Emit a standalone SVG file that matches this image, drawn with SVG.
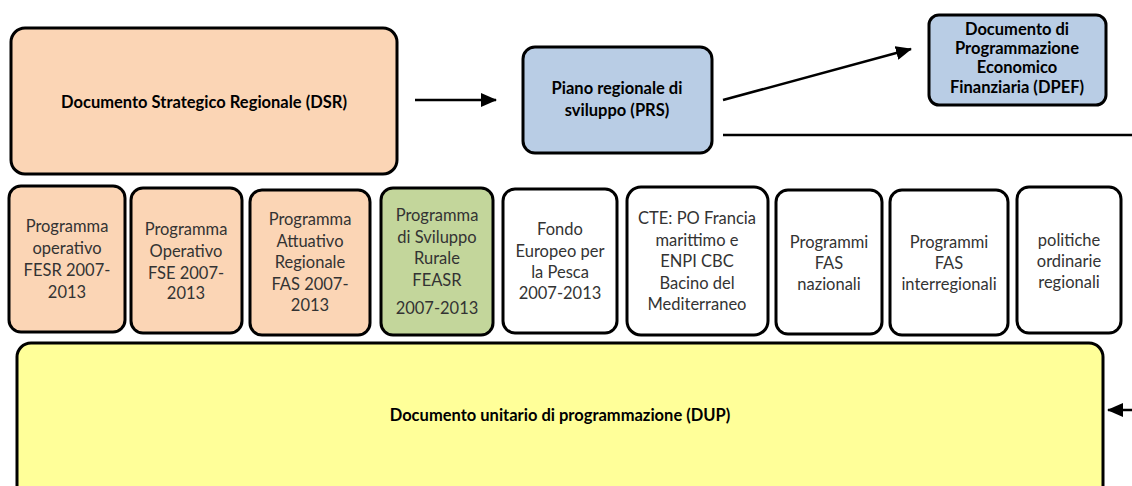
<svg xmlns="http://www.w3.org/2000/svg" width="1132" height="486" viewBox="0 0 1132 486">
<defs>
<marker id="ah" markerWidth="16" markerHeight="14" refX="15" refY="7" orient="auto" markerUnits="userSpaceOnUse" viewBox="0 0 16 14">
<path d="M0,0 L16,7 L0,14 z" fill="#000"/>
</marker>
<style>
.box{stroke:#000;stroke-width:3}
.or{fill:#FBD5B5}.bl{fill:#B9CDE5}.gr{fill:#C3D69B}.wh{fill:#fff}.ye{fill:#FFFF99}
.b{font-family:Lato,"Liberation Sans",sans-serif;font-weight:bold;font-size:16.5px;fill:#000;text-anchor:middle}
.t{font-family:Lato,"Liberation Sans",sans-serif;font-size:16.5px;fill:#333;text-anchor:middle}
.c{stroke:#000;stroke-width:2.5;fill:none}
</style>
</defs>
<g id="dsr"><rect class="box or" x="11" y="28" width="386" height="146" rx="14"/>
<text class="b" x="204" y="108">Documento Strategico Regionale (DSR)</text></g>
<g id="prs"><rect class="box bl" x="523" y="47" width="189" height="106" rx="12"/>
<text class="b" x="617" y="94">Piano regionale di</text><text class="b" x="617" y="116">sviluppo (PRS)</text></g>
<g id="dpef"><rect class="box bl" x="929" y="15" width="177" height="90" rx="10"/>
<text class="b" x="1017" y="35" font-size="15.5">Documento di</text>
<text class="b" x="1017" y="54" font-size="15.5">Programmazione</text>
<text class="b" x="1017" y="73" font-size="15.5">Economico</text>
<text class="b" x="1017" y="93" font-size="15.5">Finanziaria (DPEF)</text></g>
<g id="fesr"><rect class="box or" x="9" y="186" width="116" height="146" rx="12"/>
<text class="t" x="67" y="232">Programma</text><text class="t" x="67" y="254">operativo</text><text class="t" x="67" y="276">FESR 2007-</text><text class="t" x="67" y="298">2013</text></g>
<g id="fse"><rect class="box or" x="131" y="188" width="111" height="145" rx="12"/>
<text class="t" x="186" y="235">Programma</text><text class="t" x="186" y="257">Operativo</text><text class="t" x="186" y="279">FSE 2007-</text><text class="t" x="186" y="299">2013</text></g>
<g id="fas"><rect class="box or" x="250" y="190" width="120" height="145" rx="12"/>
<text class="t" x="310" y="225">Programma</text><text class="t" x="310" y="247">Attuativo</text><text class="t" x="310" y="268">Regionale</text><text class="t" x="310" y="290">FAS 2007-</text><text class="t" x="310" y="311">2013</text></g>
<g id="feasr"><rect class="box gr" x="381" y="188" width="112" height="147" rx="12"/>
<text class="t" x="437" y="221">Programma</text><text class="t" x="437" y="243">di Sviluppo</text><text class="t" x="437" y="264">Rurale</text><text class="t" x="437" y="286">FEASR</text><text class="t" x="437" y="314">2007-2013</text></g>
<g id="pesca"><rect class="box wh" x="503" y="189" width="114" height="144" rx="12"/>
<text class="t" x="560" y="235">Fondo</text><text class="t" x="560" y="257">Europeo per</text><text class="t" x="560" y="278">la Pesca</text><text class="t" x="560" y="299">2007-2013</text></g>
<g id="cte"><rect class="box wh" x="627" y="187" width="141" height="148" rx="14"/>
<text class="t" x="697" y="224">CTE: PO Francia</text><text class="t" x="697" y="246">marittimo e</text><text class="t" x="697" y="267">ENPI CBC</text><text class="t" x="697" y="289">Bacino del</text><text class="t" x="697" y="310">Mediterraneo</text></g>
<g id="fasnaz"><rect class="box wh" x="776" y="190" width="106" height="144" rx="12"/>
<text class="t" x="829" y="248">Programmi</text><text class="t" x="829" y="269">FAS</text><text class="t" x="829" y="290">nazionali</text></g>
<g id="fasint"><rect class="box wh" x="890" y="190" width="118" height="145" rx="12"/>
<text class="t" x="949" y="248">Programmi</text><text class="t" x="949" y="269">FAS</text><text class="t" x="949" y="290">interregionali</text></g>
<g id="ord"><rect class="box wh" x="1017" y="187" width="104" height="146" rx="12"/>
<text class="t" x="1069" y="246">politiche</text><text class="t" x="1069" y="267">ordinarie</text><text class="t" x="1069" y="288">regionali</text></g>
<g id="dup"><rect class="box ye" x="17" y="343" width="1086" height="160" rx="14"/>
<text class="b" x="560" y="421">Documento unitario di programmazione (DUP)</text></g>
<g id="connectors">
<line class="c" x1="415" y1="100" x2="496" y2="100" marker-end="url(#ah)"/>
<line class="c" x1="723" y1="100" x2="911" y2="49" marker-end="url(#ah)"/>
<line class="c" x1="723" y1="135" x2="1132" y2="135" stroke-width="1.8"/>
<line class="c" x1="1132" y1="410" x2="1108" y2="410" marker-end="url(#ah)"/>
</g>
</svg>
